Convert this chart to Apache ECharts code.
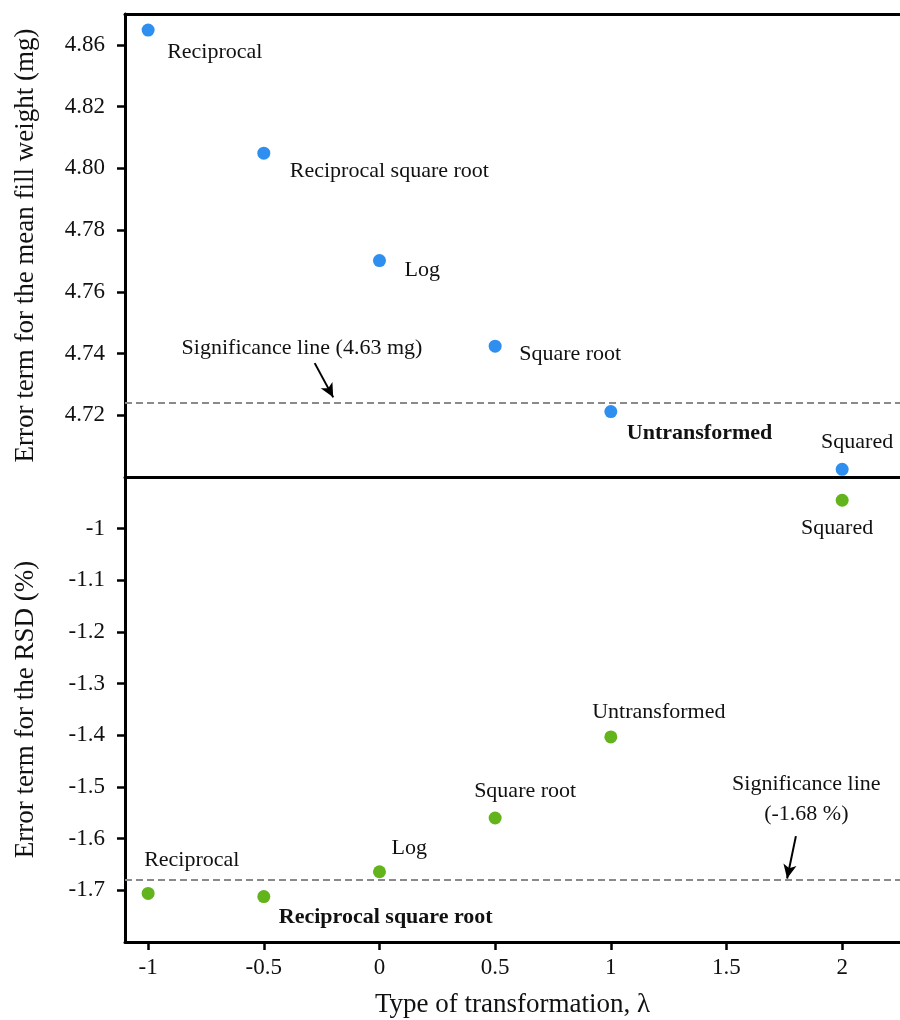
<!DOCTYPE html>
<html>
<head>
<meta charset="utf-8">
<script src="https://cdn.jsdelivr.net/npm/echarts@6/dist/echarts.min.js"></script>
<style>
  html, body { margin: 0; padding: 0; background: #ffffff; }
  #chart { width: 900px; height: 1020px; }
</style>
</head>
<body>
<div id="chart"></div>
<script>
// Box-Cox style transformations and their error terms
const transformNames = ['Reciprocal', 'Reciprocal square root', 'Log', 'Square root', 'Untransformed', 'Squared'];
const lambdas = [-1, -0.5, 0, 0.5, 1, 2];
const meanFillError = [4.8448, 4.8049, 4.7701, 4.7424, 4.7212, 4.7025];
const rsdError = [-1.706, -1.712, -1.664, -1.560, -1.403, -0.945];

// significance thresholds
const meanFillSignificance = 4.724;
const rsdSignificance = -1.68;
const meanFillSignificanceText = 'Significance line (4.63 mg)';
const rsdSignificanceText = 'Significance line\n(-1.68 %)';

// tick values and their printed labels
const xTicks = [-1, -0.5, 0, 0.5, 1, 1.5, 2];
const xTickLabels = ['-1', '-0.5', '0', '0.5', '1', '1.5', '2'];
const meanTicks = [4.72, 4.74, 4.76, 4.78, 4.80, 4.82, 4.84];
const meanTickLabels = ['4.72', '4.74', '4.76', '4.78', '4.80', '4.82', '4.86'];
const rsdTicks = [-1.7, -1.6, -1.5, -1.4, -1.3, -1.2, -1.1, -1];
const rsdTickLabels = ['-1.7', '-1.6', '-1.5', '-1.4', '-1.3', '-1.2', '-1.1', '-1'];

// best transformation in each panel is printed in bold
const bestMeanFill = 'Untransformed';
const bestRsd = 'Reciprocal square root';

// ---- styling / layout ----
const FONT = '"Liberation Serif", "Times New Roman", serif';
const INK = '#111111';
const BLUE = '#2e8ff0';
const GREEN = '#62b31c';
const DASH = '#8a8a8a';

// label placement relative to each point: [dx, dy, align]
const meanLabelPlace = {
  'Reciprocal': [19, 22, 'left'],
  'Reciprocal square root': [26, 18, 'left'],
  'Log': [25, 10, 'left'],
  'Square root': [24, 8, 'left'],
  'Untransformed': [16, 22, 'left'],
  'Squared': [15, -27, 'center']
};
const rsdLabelPlace = {
  'Reciprocal': [-4, -33, 'left'],
  'Reciprocal square root': [15, 21, 'left'],
  'Log': [12, -24, 'left'],
  'Square root': [30, -27, 'center'],
  'Untransformed': [48, -25, 'center'],
  'Squared': [-5, 28, 'center']
};

// arrows pointing to the significance lines, [x, y] in data units
const meanArrow = [[-0.28, 4.7369], [-0.20, 4.7258]];
const rsdArrow = [[1.80, -1.595], [1.762, -1.677]];
const meanNoteAt = [-0.335, 4.7418];
const rsdNoteAt = [1.845, -1.523];

const X_MIN = -1.1, X_MAX = 2.25;

function tickText(values, labels) {
  return function (v) {
    for (let i = 0; i < values.length; i++) {
      if (Math.abs(values[i] - v) < 1e-6) return labels[i];
    }
    return '';
  };
}

function pointData(ys, place, bestName) {
  return lambdas.map((x, i) => {
    const name = transformNames[i];
    const p = place[name];
    return {
      name: name,
      value: [x, ys[i]],
      label: {
        show: true,
        position: 'inside',
        offset: [p[0], p[1]],
        align: p[2],
        verticalAlign: 'middle',
        formatter: '{b}',
        color: INK,
        opacity: 1,
        fontFamily: FONT,
        fontSize: 22,
        fontWeight: name === bestName ? 'bold' : 'normal'
      }
    };
  });
}

function sigMarkLine(value, arrow) {
  return {
    silent: true,
    animation: false,
    precision: 4,
    symbol: ['none', 'none'],
    label: { show: false },
    data: [
      { yAxis: value, lineStyle: { color: DASH, width: 2, type: [7, 4], opacity: 1 } },
      [
        { coord: arrow[0], lineStyle: { color: '#000', width: 2, type: 'solid', opacity: 1 } },
        { coord: arrow[1], symbol: 'arrow', symbolSize: [10, 14] }
      ]
    ]
  };
}

const axisLineStyle = { show: true, onZero: false, lineStyle: { color: '#000', width: 3 } };
const tickStyle = { lineStyle: { color: '#000', width: 2.5 } };
const tickFont = { color: INK, fontFamily: FONT, fontSize: 23 };
const nameFont = { color: INK, fontFamily: FONT, fontSize: 27 };

const chart = echarts.init(document.getElementById('chart'), null, { renderer: 'canvas' });

chart.setOption({
  animation: false,
  backgroundColor: '#ffffff',
  grid: [
    { left: 125, top: 14, width: 775, height: 463 },
    { left: 125, top: 477, width: 775, height: 465 }
  ],
  xAxis: [
    {
      gridIndex: 0, type: 'value', min: X_MIN, max: X_MAX, position: 'bottom',
      axisLine: axisLineStyle, axisTick: { show: false }, axisLabel: { show: false },
      splitLine: { show: false }
    },
    {
      gridIndex: 1, type: 'value', min: X_MIN, max: X_MAX, position: 'bottom',
      axisLine: axisLineStyle,
      axisTick: Object.assign({ show: true, inside: false, length: 8, customValues: xTicks }, tickStyle),
      axisLabel: Object.assign({ show: true, margin: 14, customValues: xTicks,
        formatter: tickText(xTicks, xTickLabels) }, tickFont),
      splitLine: { show: false },
      name: 'Type of transformation, \u03bb',
      nameLocation: 'middle', nameGap: 49, nameTextStyle: nameFont
    },
    {
      gridIndex: 0, type: 'value', min: X_MIN, max: X_MAX, position: 'top',
      axisLine: axisLineStyle, axisTick: { show: false }, axisLabel: { show: false },
      splitLine: { show: false }
    }
  ],
  yAxis: [
    {
      gridIndex: 0, type: 'value', min: 4.70, max: 4.85, position: 'left',
      axisLine: axisLineStyle,
      axisTick: Object.assign({ show: true, inside: false, length: 8, customValues: meanTicks }, tickStyle),
      axisLabel: Object.assign({ show: true, margin: 20, customValues: meanTicks,
        formatter: tickText(meanTicks, meanTickLabels) }, tickFont),
      splitLine: { show: false },
      name: 'Error term for the mean fill weight (mg)',
      nameLocation: 'middle', nameGap: 86, nameTextStyle: nameFont
    },
    {
      gridIndex: 1, type: 'value', min: -1.8, max: -0.9, position: 'left',
      axisLine: axisLineStyle,
      axisTick: Object.assign({ show: true, inside: false, length: 8, customValues: rsdTicks }, tickStyle),
      axisLabel: Object.assign({ show: true, margin: 20, customValues: rsdTicks,
        formatter: tickText(rsdTicks, rsdTickLabels) }, tickFont),
      splitLine: { show: false },
      name: 'Error term for the RSD (%)',
      nameLocation: 'middle', nameGap: 86, nameTextStyle: nameFont
    }
  ],
  series: [
    {
      name: 'Mean fill weight', type: 'scatter', xAxisIndex: 0, yAxisIndex: 0,
      symbol: 'circle', symbolSize: 13, clip: false,
      itemStyle: { color: BLUE, opacity: 1 },
      data: pointData(meanFillError, meanLabelPlace, bestMeanFill),
      markLine: sigMarkLine(meanFillSignificance, meanArrow)
    },
    {
      name: 'RSD', type: 'scatter', xAxisIndex: 1, yAxisIndex: 1,
      symbol: 'circle', symbolSize: 13, clip: false,
      itemStyle: { color: GREEN, opacity: 1 },
      data: pointData(rsdError, rsdLabelPlace, bestRsd),
      markLine: sigMarkLine(rsdSignificance, rsdArrow)
    }
  ]
});

// notes describing the significance lines
const topNote = chart.convertToPixel({ xAxisIndex: 0, yAxisIndex: 0 }, meanNoteAt);
const bottomNote = chart.convertToPixel({ xAxisIndex: 1, yAxisIndex: 1 }, rsdNoteAt);
chart.setOption({
  graphic: [
    {
      type: 'text', x: topNote[0], y: topNote[1], silent: true,
      style: { text: meanFillSignificanceText, fill: INK, font: '22px ' + FONT,
        textAlign: 'center', textVerticalAlign: 'middle' }
    },
    {
      type: 'text', x: bottomNote[0], y: bottomNote[1], silent: true,
      style: { text: rsdSignificanceText, fill: INK, font: '22px ' + FONT,
        textAlign: 'center', textVerticalAlign: 'middle', lineHeight: 30 }
    }
  ]
});
</script>
</body>
</html>
